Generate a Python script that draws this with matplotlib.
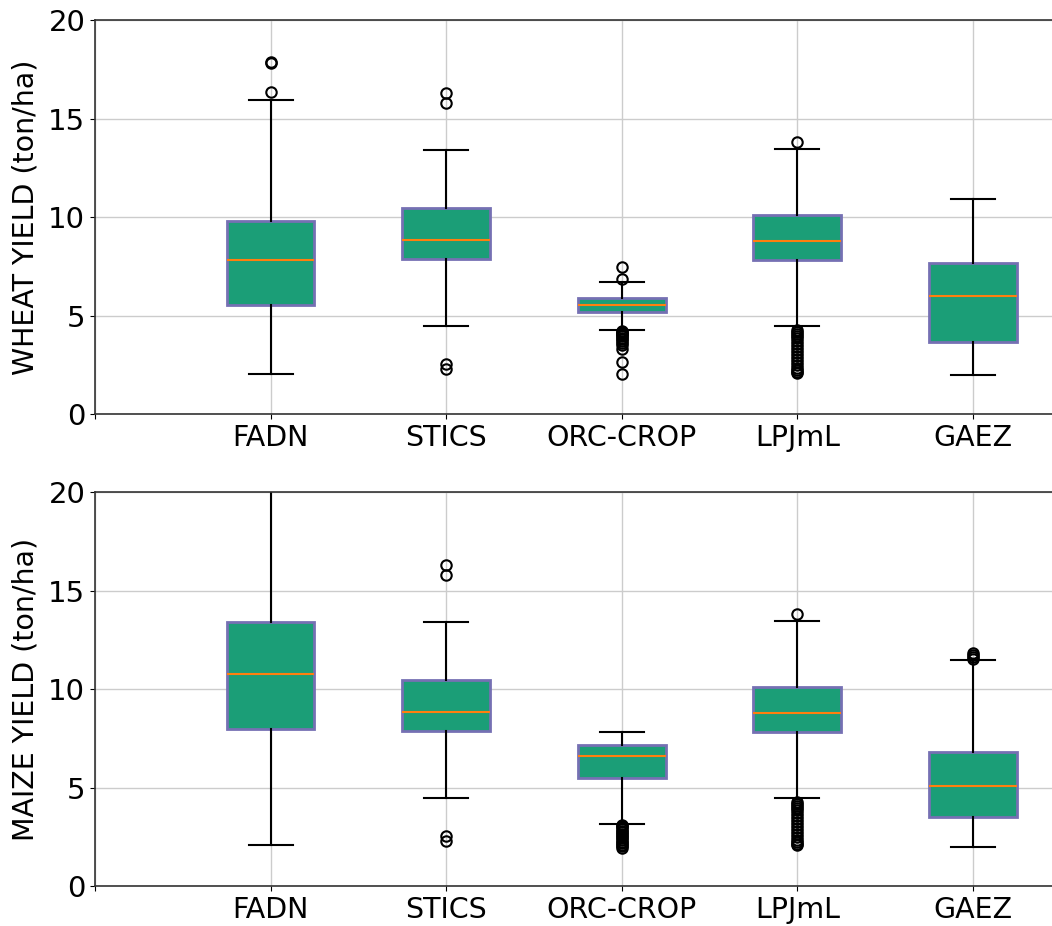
import numpy as np
import matplotlib
matplotlib.use("Agg")
import matplotlib.pyplot as plt

models = ["FADN", "STICS", "ORC-CROP", "LPJmL", "GAEZ"]

# wheat yields (ton/ha): box statistics
wheat_q1 = [5.53, 7.87, 5.18, 7.82, 3.65]
wheat_med = [7.80, 8.83, 5.53, 8.78, 5.99]
wheat_q3 = [9.80, 10.46, 5.89, 10.10, 7.67]
wheat_lo = [2.03, 4.47, 4.26, 4.47, 1.98]
wheat_hi = [15.95, 13.42, 6.72, 13.45, 10.92]
wheat_fliers = [
    [17.85, 17.9, 16.35],
    [16.3, 15.8, 2.54, 2.28],
    [7.45, 6.85, 4.22, 4.18, 4.12, 4.06, 4.0, 3.94, 3.88, 3.8, 3.72, 3.62,
     3.5, 3.3, 2.65, 2.04],
    [13.8, 4.25, 4.15, 4.05, 3.95, 3.85, 3.7, 3.55, 3.4, 3.25, 3.1, 2.95,
     2.8, 2.65, 2.5, 2.35, 2.25, 2.15, 2.08],
    [],
]

# maize yields (ton/ha)
maize_q1 = [7.99, 7.87, 5.51, 7.82, 3.53]
maize_med = [10.79, 8.83, 6.62, 8.78, 5.10]
maize_q3 = [13.43, 10.46, 7.18, 10.10, 6.82]
maize_lo = [2.09, 4.47, 3.16, 4.47, 1.98]
maize_hi = [20.5, 13.42, 7.82, 13.45, 11.51]
maize_fliers = [
    [],
    [16.3, 15.8, 2.54, 2.28],
    [3.12, 3.05, 2.98, 2.9, 2.82, 2.74, 2.66, 2.58, 2.5, 2.42, 2.34, 2.26,
     2.18, 2.1, 2.02, 1.95],
    [13.8, 4.25, 4.15, 4.05, 3.95, 3.85, 3.7, 3.55, 3.4, 3.25, 3.1, 2.95,
     2.8, 2.65, 2.5, 2.35, 2.25, 2.15, 2.08],
    [11.85, 11.75, 11.65, 11.55],
]


def make_stats(q1, med, q3, lo, hi, fliers):
    stats = []
    for i in range(len(models)):
        stats.append(dict(q1=q1[i], med=med[i], q3=q3[i], whislo=lo[i],
                          whishi=hi[i], fliers=fliers[i], label=models[i]))
    return stats


fig = plt.figure(figsize=(10.52, 9.26), dpi=100)
ax1 = fig.add_axes([0.0903, 0.553, 0.9097, 0.425])
ax2 = fig.add_axes([0.0903, 0.0432, 0.9097, 0.425])

panels = [
    (ax1, make_stats(wheat_q1, wheat_med, wheat_q3, wheat_lo, wheat_hi, wheat_fliers),
     "WHEAT YIELD (ton/ha)"),
    (ax2, make_stats(maize_q1, maize_med, maize_q3, maize_lo, maize_hi, maize_fliers),
     "MAIZE YIELD (ton/ha)"),
]

for ax, stats, ylabel in panels:
    ax.set_axisbelow(True)
    ax.grid(True, color="#cccccc", linewidth=1.0)
    ax.bxp(stats, positions=range(1, 6), widths=0.5, patch_artist=True,
           boxprops=dict(facecolor="#1b9e77", edgecolor="#7570b3", linewidth=2),
           medianprops=dict(color="#ff7f0e", linewidth=1.5),
           whiskerprops=dict(color="black", linewidth=1.5),
           capprops=dict(color="black", linewidth=1.5),
           flierprops=dict(marker="o", markerfacecolor="none",
                           markeredgecolor="black", markersize=7.5,
                           markeredgewidth=1.5))
    ax.set_xlim(0, 5.45)
    ax.set_ylim(0, 20)
    ax.set_xticks(range(0, 6))
    ax.set_xticklabels([""] + models, fontsize=20.5)
    ax.set_yticks([0, 5, 10, 15, 20])
    ax.tick_params(axis="y", labelsize=21)
    ax.set_ylabel(ylabel, fontsize=20.5, labelpad=6)
    ax.spines["right"].set_visible(False)
    for s in ["left", "top", "bottom"]:
        ax.spines[s].set_color("#333333")
        ax.spines[s].set_linewidth(1.2)

fig.savefig("out.png", dpi=100)
